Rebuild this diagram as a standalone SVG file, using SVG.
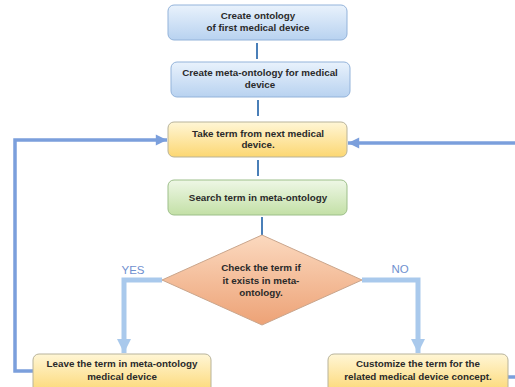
<svg xmlns="http://www.w3.org/2000/svg" width="515" height="387" viewBox="0 0 515 387">
<defs>
<linearGradient id="gBlue" x1="0" y1="0" x2="0" y2="1"><stop offset="0" stop-color="#e9f2fc"/><stop offset="1" stop-color="#b8d2f0"/></linearGradient>
<linearGradient id="gYellow" x1="0" y1="0" x2="0" y2="1"><stop offset="0" stop-color="#fff6d6"/><stop offset="1" stop-color="#fcd772"/></linearGradient>
<linearGradient id="gGreen" x1="0" y1="0" x2="0" y2="1"><stop offset="0" stop-color="#eef7e6"/><stop offset="1" stop-color="#c3e0a6"/></linearGradient>
<linearGradient id="gOrange" x1="0" y1="0" x2="0" y2="1"><stop offset="0" stop-color="#fbd9bf"/><stop offset="1" stop-color="#eda276"/></linearGradient>
<marker id="mBlue" viewBox="0 0 10 10" refX="10" refY="5" markerWidth="4" markerHeight="3.2" orient="auto" markerUnits="strokeWidth"><path d="M0,0 L10,5 L0,10 z" fill="#7b9fdc"/></marker>
<marker id="mLight" viewBox="0 0 10 10" refX="10" refY="5" markerWidth="2.8" markerHeight="3.6" orient="auto" markerUnits="strokeWidth"><path d="M0,0 L10,5 L0,10 z" fill="#a9c9ec"/></marker>
</defs>
<style>
.t{font-family:"Liberation Sans",Arial,sans-serif;font-size:9.8px;font-weight:bold;fill:#2a2a2a;text-anchor:middle}
.lbl{font-family:"Liberation Sans",Arial,sans-serif;font-size:11.5px;fill:#6f90cf;text-anchor:middle}
.blue{fill:url(#gBlue);stroke:#93b3da;stroke-width:1}
.yel{fill:url(#gYellow);stroke:#b8b39a;stroke-width:1}
.grn{fill:url(#gGreen);stroke:#9dbf8a;stroke-width:1}
.dia{fill:url(#gOrange);stroke:#c9a58c;stroke-width:1}
.small{stroke:#4a7fb8;stroke-width:2;fill:none}
.loop{stroke:#7b9fdc;stroke-width:3.5;fill:none}
.br{stroke:#a9c9ec;stroke-width:5;fill:none}
</style>
<g id="connectors">
<line class="small" x1="257" y1="43" x2="257" y2="59"/>
<line class="small" x1="258" y1="100" x2="258" y2="116"/>
<line class="small" x1="258" y1="160" x2="258" y2="176"/>
<line class="small" x1="262" y1="217" x2="262" y2="235"/>
<polyline class="loop" points="33,371 15,371 15,140 167,140" marker-end="url(#mBlue)"/>
<polyline class="loop" points="515,143 348,143" marker-end="url(#mBlue)"/>
<line class="loop" x1="508" y1="377" x2="515" y2="377"/>
<polyline class="br" points="162,280 124,280 124,353" marker-end="url(#mLight)"/>
<polyline class="br" points="362,280 418,280 418,353" marker-end="url(#mLight)"/>
<text class="lbl" x="133" y="274">YES</text>
<text class="lbl" x="400" y="273">NO</text>
</g>
<g id="n1"><rect class="blue" x="168" y="5" width="179" height="35" rx="6"/><text class="t" x="258" y="19">Create ontology</text><text class="t" x="258" y="31">of first medical device</text></g>
<g id="n2"><rect class="blue" x="171" y="62" width="179" height="35" rx="6"/><text class="t" x="260" y="76">Create meta-ontology for medical</text><text class="t" x="260" y="88">device</text></g>
<g id="n3"><rect class="yel" x="168" y="122" width="179" height="35" rx="6"/><text class="t" x="258" y="137">Take term from next medical</text><text class="t" x="258" y="148">device.</text></g>
<g id="n4"><rect class="grn" x="168" y="180" width="179" height="35" rx="6"/><text class="t" x="258" y="201">Search term in meta-ontology</text></g>
<g id="n5"><polygon class="dia" points="262,235 362,280 262,325 162,280"/><text class="t" x="261" y="271">Check the term if</text><text class="t" x="261" y="284">it exists in meta-</text><text class="t" x="261" y="296">ontology.</text></g>
<g id="n6"><rect class="yel" x="33" y="354" width="178" height="40" rx="6"/><text class="t" x="122" y="367">Leave the term in meta-ontology</text><text class="t" x="122" y="380">medical device</text></g>
<g id="n7"><rect class="yel" x="328" y="354" width="180" height="40" rx="6"/><text class="t" x="418" y="367">Customize the term for the</text><text class="t" x="418" y="380">related medical device concept.</text></g>
</svg>
